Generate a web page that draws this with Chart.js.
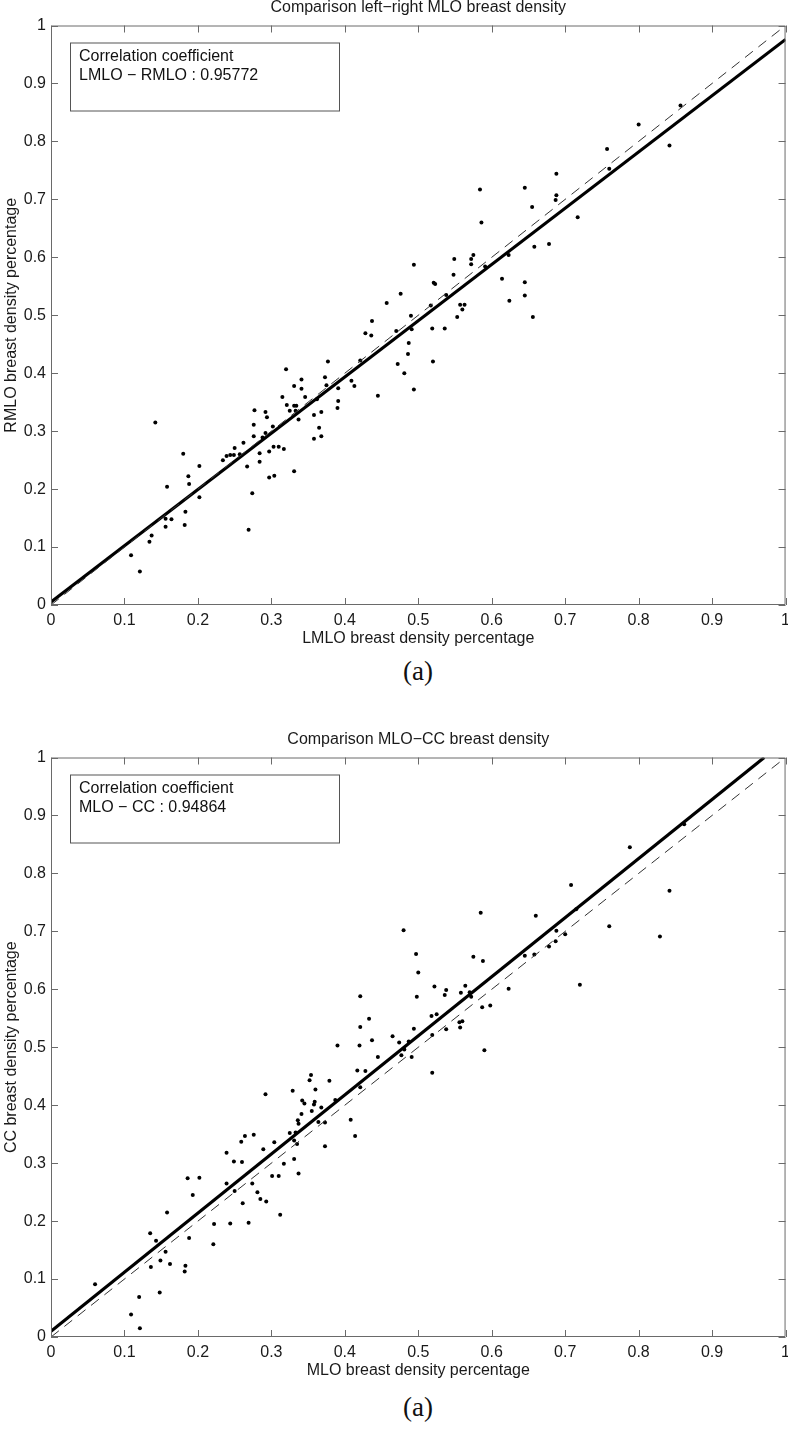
<!DOCTYPE html>
<html>
<head>
<meta charset="utf-8">
<script src="https://cdn.jsdelivr.net/npm/chart.js@4.4.1/dist/chart.umd.min.js"></script>
<style>
  html, body { margin: 0; padding: 0; background: #fff; overflow: hidden; width: 788px; height: 1430px; }
  canvas { position: absolute; left: 0; }
  #c1 { top: 0; }
  #c2 { top: 732px; }
  .cap { position: absolute; left: 368px; width: 100px; text-align: center;
         font: 27px "Liberation Serif", "Times New Roman", serif; line-height: 30px; color: #111; }
</style>
</head>
<body>
<canvas id="c1" width="796" height="650" style="width:796px;height:650px"></canvas>
<div class="cap" style="top:656px">(a)</div>
<canvas id="c2" width="796" height="650" style="width:796px;height:650px"></canvas>
<div class="cap" style="top:1392px">(a)</div>
<script>
// tick labels (same on both axes of both plots)
const tickLabels = ["0", "0.1", "0.2", "0.3", "0.4", "0.5", "0.6", "0.7", "0.8", "0.9", "1"];

// (a) left vs right MLO
const lmlo = [0.142, 0.109, 0.121, 0.134, 0.137, 0.156, 0.156, 0.164, 0.158, 0.180, 0.187, 0.188, 0.183, 0.182,
  0.202, 0.202, 0.234, 0.239, 0.244, 0.249, 0.250, 0.257, 0.262, 0.267, 0.274, 0.269, 0.277, 0.276, 0.276,
  0.284, 0.284, 0.288, 0.292, 0.292, 0.294, 0.297, 0.297, 0.302, 0.303, 0.304, 0.310, 0.317, 0.315, 0.321,
  0.325, 0.331, 0.331, 0.320, 0.331, 0.334, 0.333, 0.337, 0.341, 0.341, 0.346, 0.358, 0.358, 0.365, 0.368,
  0.368, 0.362, 0.373, 0.377, 0.375, 0.390, 0.391, 0.391, 0.409, 0.413, 0.421, 0.428, 0.436, 0.437, 0.445,
  0.457, 0.470, 0.476, 0.472, 0.481, 0.487, 0.486, 0.490, 0.491, 0.494, 0.494, 0.517, 0.519, 0.520, 0.521,
  0.523, 0.536, 0.538, 0.549, 0.548, 0.553, 0.557, 0.563, 0.560, 0.572, 0.575, 0.572, 0.584, 0.586, 0.591,
  0.614, 0.623, 0.624, 0.645, 0.645, 0.645, 0.655, 0.656, 0.658, 0.678, 0.687, 0.688, 0.688, 0.717, 0.757,
  0.760, 0.800, 0.842, 0.857];
const rmlo = [0.315, 0.086, 0.058, 0.109, 0.120, 0.135, 0.149, 0.148, 0.204, 0.261, 0.222, 0.209, 0.161, 0.138,
  0.240, 0.186, 0.250, 0.257, 0.259, 0.259, 0.271, 0.260, 0.280, 0.239, 0.193, 0.130, 0.336, 0.311, 0.291,
  0.262, 0.247, 0.289, 0.297, 0.333, 0.324, 0.265, 0.220, 0.308, 0.273, 0.223, 0.273, 0.269, 0.359, 0.345,
  0.335, 0.378, 0.231, 0.407, 0.344, 0.344, 0.335, 0.320, 0.389, 0.373, 0.359, 0.328, 0.287, 0.306, 0.291,
  0.333, 0.355, 0.393, 0.420, 0.379, 0.340, 0.352, 0.374, 0.387, 0.378, 0.422, 0.469, 0.465, 0.490, 0.361,
  0.521, 0.473, 0.537, 0.416, 0.400, 0.452, 0.433, 0.499, 0.476, 0.372, 0.587, 0.517, 0.477, 0.420, 0.556,
  0.554, 0.477, 0.535, 0.597, 0.570, 0.497, 0.518, 0.518, 0.510, 0.597, 0.604, 0.588, 0.717, 0.660, 0.584,
  0.563, 0.604, 0.525, 0.720, 0.557, 0.534, 0.687, 0.497, 0.618, 0.623, 0.699, 0.707, 0.744, 0.669, 0.787,
  0.753, 0.829, 0.793, 0.862];
const lrFitX = [0, 1];
const lrFitY = [0.005, 0.976];

// (b) MLO vs CC
const mlo = [0.060, 0.109, 0.120, 0.121, 0.148, 0.135, 0.143, 0.136, 0.149, 0.156, 0.158, 0.162, 0.183, 0.182,
  0.188, 0.186, 0.202, 0.193, 0.221, 0.222, 0.239, 0.239, 0.244, 0.249, 0.250, 0.259, 0.260, 0.261, 0.264,
  0.269, 0.274, 0.276, 0.281, 0.285, 0.289, 0.293, 0.292, 0.301, 0.304, 0.310, 0.312, 0.317, 0.325, 0.329,
  0.331, 0.331, 0.335, 0.337, 0.336, 0.337, 0.341, 0.342, 0.345, 0.352, 0.333, 0.354, 0.360, 0.359, 0.358,
  0.355, 0.368, 0.364, 0.373, 0.373, 0.379, 0.387, 0.390, 0.408, 0.414, 0.417, 0.421, 0.421, 0.420, 0.421,
  0.428, 0.433, 0.437, 0.445, 0.465, 0.474, 0.477, 0.481, 0.487, 0.491, 0.494, 0.497, 0.500, 0.498, 0.480,
  0.519, 0.518, 0.525, 0.519, 0.522, 0.536, 0.538, 0.538, 0.556, 0.560, 0.557, 0.558, 0.564, 0.570, 0.572,
  0.575, 0.585, 0.588, 0.587, 0.598, 0.590, 0.623, 0.645, 0.658, 0.660, 0.678, 0.687, 0.688, 0.700, 0.708,
  0.715, 0.720, 0.760, 0.788, 0.829, 0.842, 0.862];
const cc = [0.091, 0.039, 0.069, 0.015, 0.077, 0.179, 0.166, 0.121, 0.132, 0.147, 0.215, 0.126, 0.123, 0.113,
  0.171, 0.274, 0.275, 0.245, 0.160, 0.195, 0.318, 0.265, 0.196, 0.303, 0.252, 0.337, 0.302, 0.231, 0.347,
  0.197, 0.265, 0.349, 0.250, 0.238, 0.324, 0.234, 0.419, 0.278, 0.336, 0.278, 0.211, 0.299, 0.352, 0.425,
  0.307, 0.339, 0.333, 0.282, 0.374, 0.368, 0.385, 0.408, 0.403, 0.443, 0.353, 0.452, 0.427, 0.406, 0.401,
  0.390, 0.396, 0.371, 0.370, 0.329, 0.442, 0.409, 0.503, 0.375, 0.347, 0.460, 0.588, 0.535, 0.503, 0.431,
  0.459, 0.549, 0.512, 0.483, 0.519, 0.508, 0.486, 0.496, 0.510, 0.483, 0.532, 0.661, 0.629, 0.587, 0.702,
  0.521, 0.554, 0.557, 0.456, 0.605, 0.590, 0.599, 0.531, 0.543, 0.545, 0.534, 0.594, 0.606, 0.595, 0.587,
  0.656, 0.732, 0.649, 0.569, 0.572, 0.495, 0.601, 0.658, 0.660, 0.727, 0.674, 0.683, 0.701, 0.695, 0.780,
  0.738, 0.608, 0.709, 0.845, 0.691, 0.770, 0.885];
const mcFitX = [0, 0.971];
const mcFitY = [0.01, 1];

// y = x reference
const diagX = [0, 1];
const diagY = [0, 1];

const FONT = '"Liberation Sans", Arial, Helvetica, sans-serif';
Chart.defaults.font.family = FONT;
Chart.defaults.font.size = 16;
Chart.defaults.color = "#1a1a1a";

function toPoints(xs, ys) {
    return xs.map((x, i) => ({ x: x, y: ys[i] }));
}

// matlab style box with inward ticks
const frame = {
    id: "frame",
    afterDatasetsDraw(chart) {
        const { ctx, chartArea: a, scales } = chart;
        const tl = 7;
        ctx.save();
        ctx.strokeStyle = "#6a6a6a";
        ctx.lineWidth = 1;
        ctx.beginPath();
        ctx.rect(a.left + 0.5, a.top + 0.5, a.right - a.left - 1, a.bottom - a.top - 1);
        scales.x.ticks.forEach((t) => {
            const px = Math.round(scales.x.getPixelForValue(t.value)) + 0.5;
            ctx.moveTo(px, a.bottom);
            ctx.lineTo(px, a.bottom - tl);
            ctx.moveTo(px, a.top);
            ctx.lineTo(px, a.top + tl);
        });
        scales.y.ticks.forEach((t) => {
            const py = Math.round(scales.y.getPixelForValue(t.value)) + 0.5;
            ctx.moveTo(a.left, py);
            ctx.lineTo(a.left + tl, py);
            ctx.moveTo(a.right, py);
            ctx.lineTo(a.right - tl, py);
        });
        ctx.stroke();
        ctx.restore();
    },
};

// text box in the upper left corner
const noteBox = {
    id: "noteBox",
    afterDraw(chart, args, opts) {
        const { ctx, chartArea: a } = chart;
        ctx.save();
        ctx.fillStyle = "#fff";
        ctx.fillRect(a.left + 19, a.top + 17, 269, 68);
        ctx.strokeStyle = "#555";
        ctx.lineWidth = 1;
        ctx.strokeRect(a.left + 19.5, a.top + 17.5, 269, 68);
        ctx.fillStyle = "#111";
        ctx.font = "16px " + FONT;
        ctx.textBaseline = "middle";
        opts.lines.forEach((t, i) => ctx.fillText(t, a.left + 28, a.top + 31 + i * 19.5));
        ctx.restore();
    },
};

function axis(title, isX) {
    return {
        type: "linear",
        min: 0,
        max: 1,
        afterFit: (s) => {
            if (isX) s.height = 45;
            else s.width = 51;
        },
        ticks: {
            stepSize: 0.1,
            padding: isX ? 6 : 5,
            color: "#1a1a1a",
            autoSkip: false,
            maxRotation: 0,
            callback: (v, i) => tickLabels[i],
        },
        grid: { display: false, drawTicks: false },
        border: { display: false },
        title: {
            display: true,
            text: title,
            color: "#1a1a1a",
            font: { size: 16 },
            padding: isX ? { top: 0, bottom: 1.5 } : { top: 2, bottom: 0 },
        },
    };
}

function makeChart(id, cfg) {
    const ctx = document.getElementById(id).getContext("2d");
    return new Chart(ctx, {
        type: "scatter",
        data: {
            datasets: [
                {
                    data: toPoints(diagX, diagY),
                    showLine: true,
                    borderColor: "#333",
                    borderWidth: 1,
                    borderDash: [10, 7],
                    pointRadius: 0,
                },
                {
                    data: toPoints(cfg.fitX, cfg.fitY),
                    showLine: true,
                    borderColor: "#000",
                    borderWidth: 3.2,
                    pointRadius: 0,
                },
                {
                    data: toPoints(cfg.xs, cfg.ys),
                    pointRadius: 2,
                    pointBorderWidth: 0,
                    backgroundColor: "#000",
                    borderColor: "#000",
                },
            ],
        },
        options: {
            responsive: false,
            animation: false,
            layout: { padding: 0 },
            plugins: {
                legend: { display: false },
                tooltip: { enabled: false },
                title: {
                    display: true,
                    fullSize: false,
                    text: cfg.title,
                    color: "#1a1a1a",
                    font: { size: 16, weight: "normal", lineHeight: 0.9 },
                    padding: { top: 0, bottom: 11.1 },
                },
                noteBox: { lines: cfg.note },
            },
            scales: {
                x: axis(cfg.xTitle, true),
                y: axis(cfg.yTitle, false),
            },
        },
        plugins: [frame, noteBox],
    });
}

makeChart("c1", {
    title: "Comparison left\u2212right MLO breast density",
    xTitle: "LMLO breast density percentage",
    yTitle: "RMLO breast density percentage",
    note: ["Correlation coefficient", "LMLO \u2212 RMLO : 0.95772"],
    xs: lmlo,
    ys: rmlo,
    fitX: lrFitX,
    fitY: lrFitY,
});

makeChart("c2", {
    title: "Comparison MLO\u2212CC breast density",
    xTitle: "MLO breast density percentage",
    yTitle: "CC breast density percentage",
    note: ["Correlation coefficient", "MLO \u2212 CC : 0.94864"],
    xs: mlo,
    ys: cc,
    fitX: mcFitX,
    fitY: mcFitY,
});
</script>
</body>
</html>
